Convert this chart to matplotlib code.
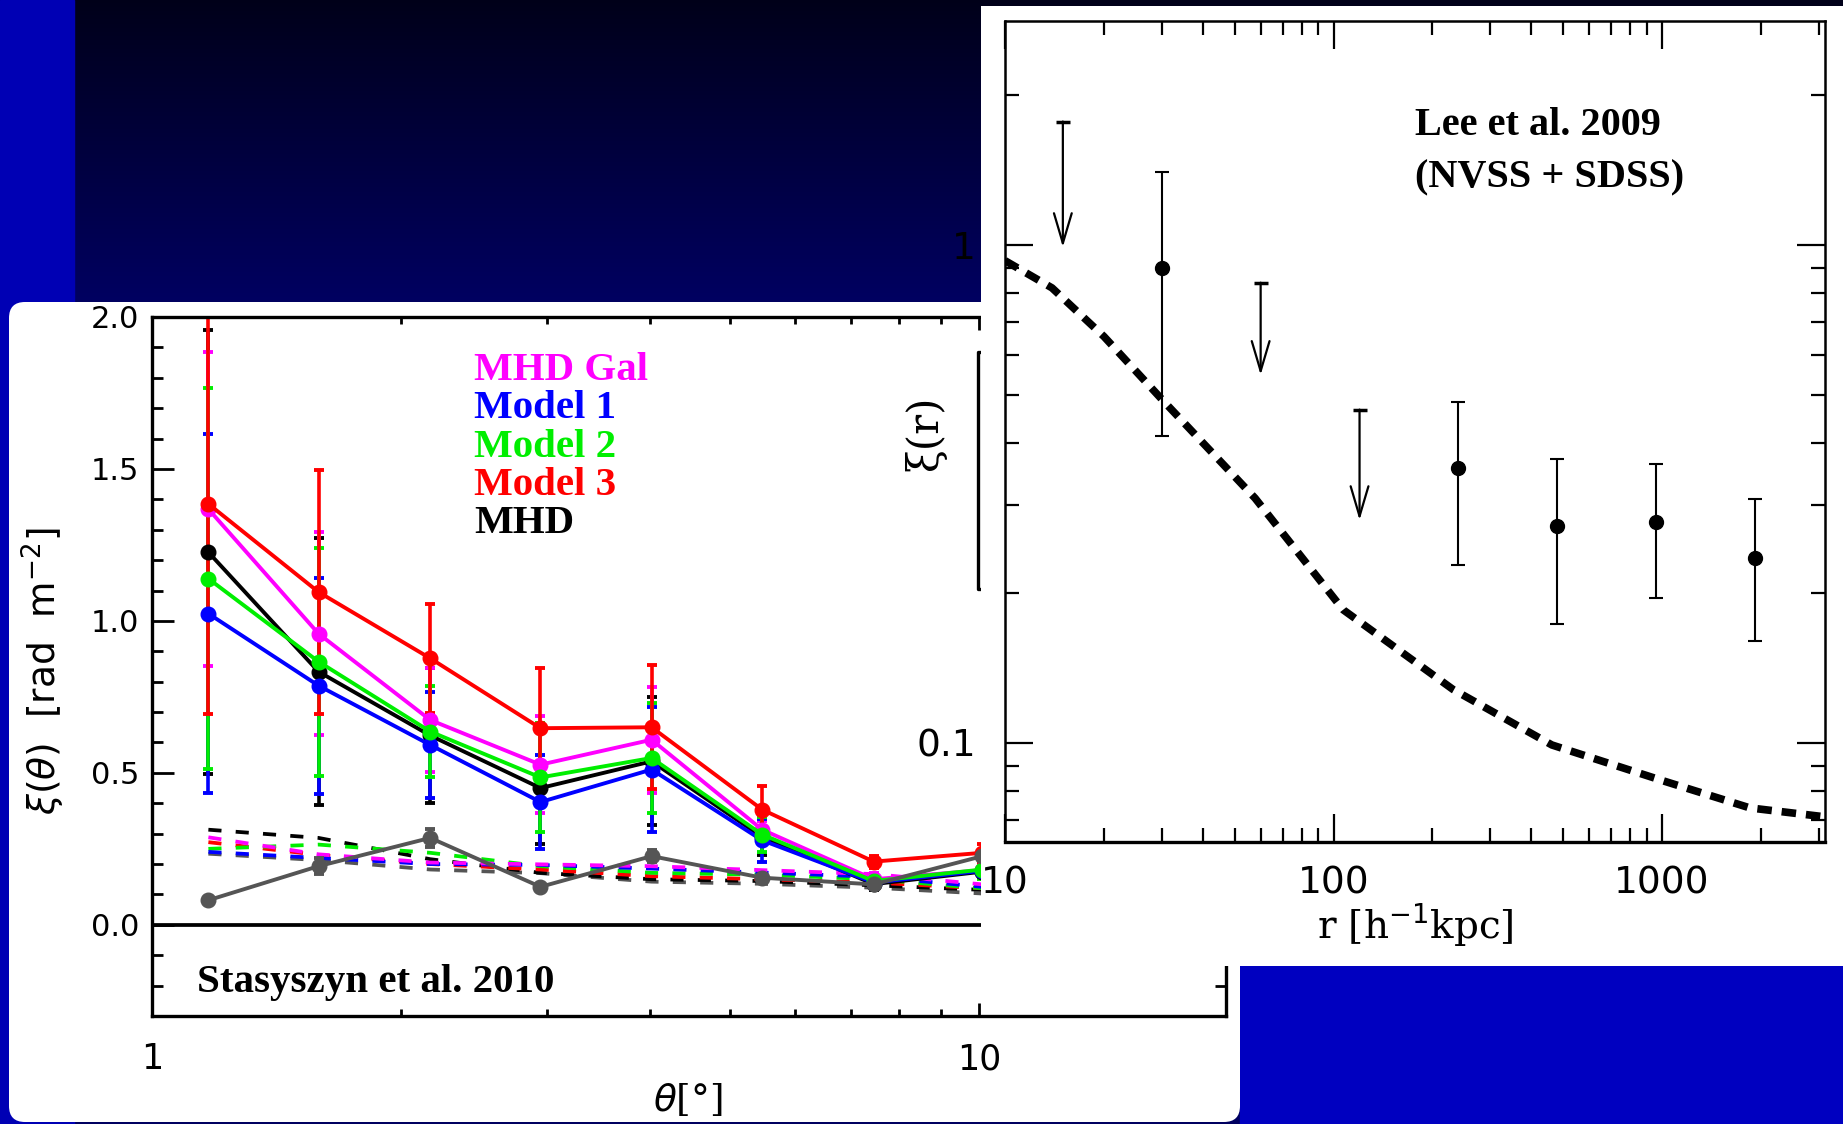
import matplotlib
matplotlib.use("Agg")
import matplotlib.pyplot as plt
import numpy as np
from matplotlib import ticker
from matplotlib.lines import Line2D
from matplotlib.patches import FancyBboxPatch, Rectangle

W, H = 1843, 1124

# left panel (Stasyszyn et al. 2010): xi(theta) per model
theta = [1.17, 1.59, 2.17, 2.95, 4.02, 5.47, 7.46, 10.1]
xi_mhd_gal = [1.368, 0.958, 0.674, 0.527, 0.609, 0.313, 0.150, 0.180]
err_mhd_gal = [0.516, 0.335, 0.171, 0.160, 0.175, 0.030, 0.020, 0.020]
xi_model1 = [1.024, 0.787, 0.592, 0.404, 0.511, 0.278, 0.139, 0.178]
err_model1 = [0.590, 0.355, 0.174, 0.156, 0.205, 0.070, 0.020, 0.020]
xi_model2 = [1.139, 0.866, 0.636, 0.485, 0.549, 0.297, 0.144, 0.182]
err_model2 = [0.627, 0.375, 0.151, 0.180, 0.180, 0.057, 0.020, 0.030]
xi_model3 = [1.385, 1.095, 0.877, 0.647, 0.650, 0.379, 0.208, 0.237]
err_model3 = [0.690, 0.400, 0.180, 0.198, 0.204, 0.079, 0.020, 0.030]
xi_mhd = [1.226, 0.833, 0.623, 0.450, 0.538, 0.289, 0.134, 0.175]
err_mhd = [0.730, 0.440, 0.223, 0.185, 0.210, 0.060, 0.020, 0.020]
xi_obs = [0.081, 0.193, 0.286, 0.125, 0.226, 0.155, 0.133, 0.226]
err_obs = [0.010, 0.027, 0.030, 0.010, 0.020, 0.010, 0.010, 0.010]

# dashed curves
dash_mhd_gal = [0.288, 0.232, 0.205, 0.199, 0.193, 0.180, 0.167, 0.133]
dash_model1 = [0.240, 0.220, 0.200, 0.197, 0.185, 0.172, 0.158, 0.125]
dash_model2 = [0.250, 0.264, 0.237, 0.193, 0.171, 0.165, 0.150, 0.120]
dash_model3 = [0.272, 0.230, 0.200, 0.182, 0.160, 0.150, 0.139, 0.120]
dash_mhd = [0.313, 0.286, 0.216, 0.171, 0.150, 0.144, 0.130, 0.115]
dash_obs = [0.234, 0.213, 0.182, 0.170, 0.142, 0.135, 0.122, 0.103]

legend_names = ["MHD Gal", "Model 1", "Model 2", "Model 3", "MHD"]

# right panel (Lee et al. 2009)
r_pts = [30, 240, 480, 960, 1920]
xi_pts = [0.90, 0.357, 0.272, 0.278, 0.235]
xi_pts_lo = [0.413, 0.228, 0.173, 0.195, 0.160]
xi_pts_hi = [1.40, 0.484, 0.372, 0.363, 0.309]
r_lim = [15, 60, 120]
xi_lim_top = [1.77, 0.84, 0.467]
xi_lim_tip = [0.99, 0.548, 0.28]
r_model = [10, 13.9, 20, 30, 57.7, 107, 231, 462, 1000, 1850, 3130]
xi_model = [0.93, 0.82, 0.655, 0.49, 0.31, 0.185, 0.128, 0.099, 0.084, 0.074, 0.071]

plt.rcParams["font.family"] = ["DejaVu Sans"]
plt.rcParams["mathtext.fontset"] = "dejavusans"


def fx(x):
    return x / W


def fy(y):
    return 1 - y / H


fig = plt.figure(figsize=(W / 100, H / 100), dpi=100, facecolor="#000040")

# slide background
ax_bg = fig.add_axes([0, 0, 1, 1], zorder=0)
rows = np.clip(np.arange(H) / 300.0, 0, 1)
grad = np.zeros((H, 1, 3))
grad[:, 0, 2] = 0.10 + 0.28 * rows
ax_bg.imshow(grad, extent=(0, W, H, 0), aspect="auto", interpolation="bilinear")
ax_bg.add_patch(Rectangle((0, 0), 74, H, color="#0000b4"))
ax_bg.add_patch(Rectangle((1240, 966), W - 1240, H - 966, color="#0000c0"))
ax_bg.add_patch(FancyBboxPatch((9, 302), 1231, 820, boxstyle="round,pad=0,rounding_size=16",
                               fc="white", ec="none"))
ax_bg.set_xlim(0, W)
ax_bg.set_ylim(H, 0)
ax_bg.axis("off")

# ---- left panel ----
ax_l = fig.add_axes([fx(152), fy(1016), (1226 - 152) / W, (1016 - 317) / H], zorder=1)
ax_l.set_facecolor("none")
ax_l.set_xscale("log")
ax_l.set_xlim(1, 19.9)
ax_l.set_ylim(-0.3, 2.0)

dash_kw = dict(lw=2.7, dashes=(3.5, 3.8))
ax_l.plot(theta, dash_obs, color="#555555", **dash_kw)
ax_l.plot(theta, dash_mhd, color="black", **dash_kw)
ax_l.plot(theta, dash_model3, color="#ff0000", **dash_kw)
ax_l.plot(theta, dash_model2, color="#00ee00", **dash_kw)
ax_l.plot(theta, dash_model1, color="#0000ff", **dash_kw)
ax_l.plot(theta, dash_mhd_gal, color="#ff00ff", **dash_kw)

err_kw = dict(lw=2.8, marker="o", ms=10.5, capsize=3.5, capthick=2.8, elinewidth=2.6)
ax_l.errorbar(theta, xi_mhd, yerr=err_mhd, color="black", **err_kw)
ax_l.errorbar(theta, xi_mhd_gal, yerr=err_mhd_gal, color="#ff00ff", **err_kw)
ax_l.errorbar(theta, xi_model1, yerr=err_model1, color="#0000ff", **err_kw)
ax_l.errorbar(theta, xi_model2, yerr=err_model2, color="#00ee00", **err_kw)
ax_l.errorbar(theta, xi_model3, yerr=err_model3, color="#ff0000", **err_kw)
ax_l.errorbar(theta, xi_obs, yerr=err_obs, color="#555555", **err_kw)
ax_l.axhline(0, color="black", lw=2.7)

ax_l.xaxis.set_major_locator(ticker.FixedLocator([1, 10]))
ax_l.xaxis.set_major_formatter(ticker.FuncFormatter(lambda v, _: f"{v:g}"))
ax_l.xaxis.set_minor_locator(ticker.LogLocator(subs=np.arange(2, 10)))
ax_l.xaxis.set_minor_formatter(ticker.NullFormatter())
ax_l.yaxis.set_major_locator(ticker.MultipleLocator(0.5))
ax_l.yaxis.set_minor_locator(ticker.MultipleLocator(0.1))
ax_l.yaxis.set_major_formatter(ticker.FormatStrFormatter("%.1f"))
ax_l.tick_params(axis="y", which="major", direction="in", length=16, width=2,
                 left=True, right=True, labelsize=22, pad=9)
ax_l.tick_params(axis="y", which="minor", direction="in", length=8, width=2,
                 left=True, right=True)
ax_l.tick_params(axis="x", which="major", direction="in", length=9.5, width=2,
                 top=True, bottom=True, labelsize=25, pad=19)
ax_l.tick_params(axis="x", which="minor", direction="in", length=5, width=2,
                 top=True, bottom=True)
for sp in ax_l.spines.values():
    sp.set_linewidth(2.4)

serif_bold = dict(family="Liberation Serif", weight="bold")
legend_colors = ["#ff00ff", "#0000ff", "#00ee00", "#ff0000", "black"]
for i, (name, c) in enumerate(zip(legend_names, legend_colors)):
    fig.text(fx(474), fy(380 + 38.3 * i), name, color=c, fontsize=29.5,
             va="baseline", ha="left", zorder=1.5, **serif_bold)
fig.text(fx(197), fy(992), "Stasyszyn et al. 2010", color="black", fontsize=29.5,
         va="baseline", ha="left", zorder=1.5, **serif_bold)
fig.text(fx(43), fy(671), r"$\xi(\theta)$  [rad  m$^{-2}$]", rotation=90,
         fontsize=27, ha="center", va="center", zorder=1.5)
fig.text(fx(688), fy(1100), r"$\theta$[°]", fontsize=27, ha="center", va="center",
         zorder=1.5, family="DejaVu Serif")

# odd bracket left of the right panel
fig.add_artist(Line2D([fx(983), fx(978), fx(978), fx(983)],
                      [fy(352), fy(352), fy(589), fy(589)],
                      transform=fig.transFigure, color="black", lw=2.4, zorder=1.5))

# ---- right panel ----
ax_cover = fig.add_axes([fx(981), fy(966), (W - 981) / W, (966 - 6) / H], zorder=2)
ax_cover.set_facecolor("white")
ax_cover.set_xticks([])
ax_cover.set_yticks([])
for sp in ax_cover.spines.values():
    sp.set_visible(False)

ax_r = fig.add_axes([fx(1005), fy(842), (1825 - 1005) / W, (842 - 21) / H], zorder=3)
ax_r.set_facecolor("none")
ax_r.set_xscale("log")
ax_r.set_yscale("log")
ax_r.set_xlim(10, 3133)
ax_r.set_ylim(0.0632, 2.818)

ax_r.plot(r_model, xi_model, color="black", lw=5.5, dashes=(1.9, 1.3),
          solid_capstyle="butt", dash_capstyle="butt")
yerr = [np.array(xi_pts) - np.array(xi_pts_lo), np.array(xi_pts_hi) - np.array(xi_pts)]
ax_r.errorbar(r_pts, xi_pts, yerr=yerr, fmt="o", color="black", ms=10,
              elinewidth=1.5, capsize=5, capthick=1.5)
for r, top, tip in zip(r_lim, xi_lim_top, xi_lim_tip):
    ax_r.annotate("", xy=(r, tip), xytext=(r, top),
                  arrowprops=dict(arrowstyle="->,head_length=1.08,head_width=0.32",
                                  lw=1.6, color="black", shrinkA=0, shrinkB=0,
                                  mutation_scale=20))
ax_r.plot(r_lim, xi_lim_top, ls="none", marker="_", ms=10, mew=2.5, color="black")

ax_r.xaxis.set_major_locator(ticker.FixedLocator([10, 100, 1000]))
ax_r.xaxis.set_major_formatter(ticker.FuncFormatter(lambda v, _: f"{v:g}"))
ax_r.xaxis.set_minor_locator(ticker.LogLocator(subs=np.arange(2, 10)))
ax_r.xaxis.set_minor_formatter(ticker.NullFormatter())
ax_r.yaxis.set_major_locator(ticker.FixedLocator([0.1, 1]))
ax_r.yaxis.set_major_formatter(ticker.FuncFormatter(lambda v, _: f"{v:g}"))
ax_r.yaxis.set_minor_locator(ticker.LogLocator(subs=np.arange(2, 10)))
ax_r.yaxis.set_minor_formatter(ticker.NullFormatter())
ax_r.tick_params(axis="both", which="major", direction="in", length=20, width=1.6,
                 top=True, bottom=True, left=True, right=True, labelsize=27)
ax_r.tick_params(axis="both", which="minor", direction="in", length=10, width=1.6,
                 top=True, bottom=True, left=True, right=True)
ax_r.tick_params(axis="x", which="major", pad=17)
ax_r.tick_params(axis="y", which="major", pad=21)
for sp in ax_r.spines.values():
    sp.set_linewidth(1.8)
ax_r.spines["bottom"].set_linewidth(2.4)

fig.text(fx(1415), fy(135), "Lee et al. 2009", fontsize=29, va="baseline", ha="left",
         zorder=10, **serif_bold)
fig.text(fx(1415), fy(187), "(NVSS + SDSS)", fontsize=29, va="baseline", ha="left",
         zorder=10, **serif_bold)
fig.text(fx(925), fy(433), r"ξ(r)", rotation=90, fontsize=30, ha="center",
         va="center", zorder=10, family="DejaVu Serif")
fig.text(fx(1415), fy(925), r"r [h$^{-1}$kpc]", fontsize=28, ha="center",
         va="center", zorder=10, family="DejaVu Serif")

fig.savefig("out.png", dpi=100, facecolor=fig.get_facecolor())
